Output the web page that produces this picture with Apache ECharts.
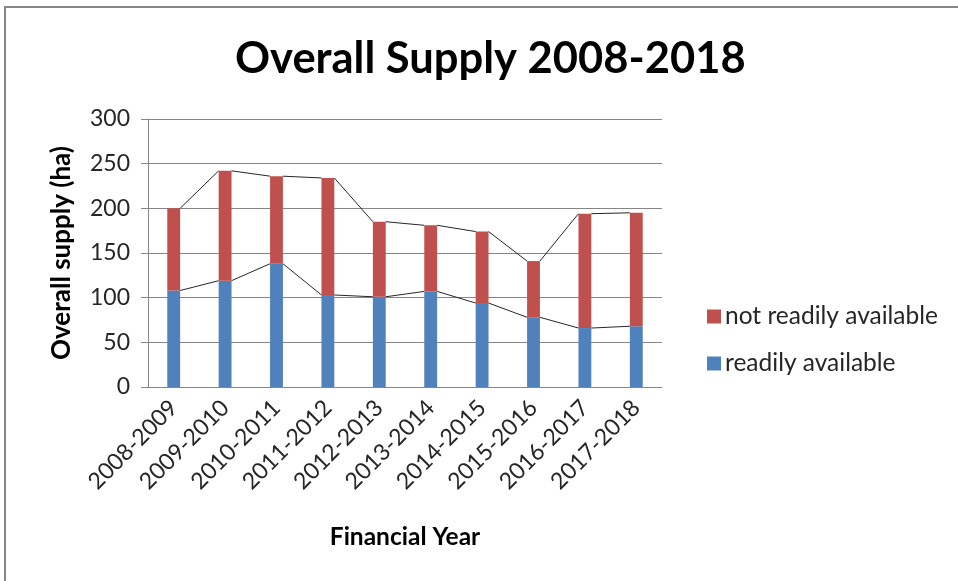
<!DOCTYPE html>
<html>
<head>
<meta charset="utf-8">
<script src="https://cdn.jsdelivr.net/npm/echarts@6/dist/echarts.min.js"></script>
<style>html,body{margin:0;padding:0;background:#fff;}#c{width:958px;height:581px;}</style>
</head>
<body>
<div id="c"></div>
<script>
const categories = ['2008-2009','2009-2010','2010-2011','2011-2012','2012-2013','2013-2014','2014-2015','2015-2016','2016-2017','2017-2018'];
const readilyAvailable = [108, 119, 138, 103, 101, 107, 94, 78, 66, 68];
const notReadilyAvailable = [92, 123, 98, 131, 84, 74, 80, 63, 128, 127];
const yTicks = [0, 50, 100, 150, 200, 250, 300];

const totals = readilyAvailable.map((v, i) => v + notReadilyAvailable[i]);
function segs(arr) {
  const out = [];
  for (let i = 0; i < arr.length - 1; i++) out.push([i, arr[i], arr[i + 1]]);
  return out;
}
const BAR_RATIO = 0.25;
function seriesLine(name, data) {
  return {
    type: 'custom', name: name, data: data, z: 5, silent: true,
    encode: { x: 0, y: [1, 2] },
    renderItem: function (params, api) {
      const i = api.value(0);
      const p1 = api.coord([i, api.value(1)]);
      const p2 = api.coord([i + 1, api.value(2)]);
      const hw = api.size([1, 0])[0] * BAR_RATIO / 2;
      return { type: 'line', shape: { x1: p1[0] + hw, y1: p1[1], x2: p2[0] - hw, y2: p2[1] },
               style: { stroke: '#262626', lineWidth: 1 } };
    }
  };
}
const FONT = 'Lato';
const chart = echarts.init(document.getElementById('c'));
chart.setOption({
  animation: false,
  graphic: [{ type: 'rect', shape: { x: 5, y: 7, width: 1000, height: 700 }, style: { fill: 'none', stroke: '#868686', lineWidth: 2 }, silent: true }],
  title: { text: 'Overall Supply 2008-2018', left: 230, top: 32, textStyle: { fontFamily: FONT, fontWeight: 'bold', fontSize: 43.5, color: '#000' } },
  legend: {
    orient: 'vertical', left: 702, top: 299, itemWidth: 14, itemHeight: 14, itemGap: 22, icon: 'rect',
    data: ['not readily available', 'readily available'],
    textStyle: { fontFamily: FONT, fontSize: 24.5, color: '#262626', padding: [0, 0, 0, -1] }
  },
  grid: { left: 148, right: 296, top: 119, bottom: 194, containLabel: false },
  xAxis: {
    type: 'category', data: categories, boundaryGap: true,
    name: 'Financial Year', nameLocation: 'middle', nameGap: 138,
    nameTextStyle: { fontFamily: FONT, fontWeight: 'bold', fontSize: 24.5, color: '#000' },
    axisLine: { lineStyle: { color: '#868686', width: 1 } },
    axisTick: { show: false },
    axisLabel: { rotate: 45, fontFamily: FONT, fontSize: 23, color: '#262626', margin: 17, interval: 0 }
  },
  yAxis: {
    type: 'value', min: yTicks[0], max: yTicks[yTicks.length - 1], interval: 50,
    name: 'Overall supply (ha)', nameLocation: 'middle', nameGap: 73,
    nameTextStyle: { fontFamily: FONT, fontWeight: 'bold', fontSize: 26, color: '#000' },
    axisLine: { show: true, lineStyle: { color: '#868686', width: 1 } },
    axisTick: { show: true, length: 7, lineStyle: { color: '#868686' } },
    splitLine: { lineStyle: { color: '#868686', width: 1 } },
    axisLabel: { fontFamily: FONT, fontSize: 23, color: '#262626', margin: 18 }
  },
  series: [
    { name: 'readily available', type: 'bar', stack: 'a', barWidth: '25%', data: readilyAvailable, itemStyle: { color: '#4F81BD' } },
    { name: 'not readily available', type: 'bar', stack: 'a', barWidth: '25%', data: notReadilyAvailable, itemStyle: { color: '#C0504D' } },
    seriesLine('line1', segs(readilyAvailable)),
    seriesLine('line2', segs(totals))
  ]
});
</script>
</body>
</html>
